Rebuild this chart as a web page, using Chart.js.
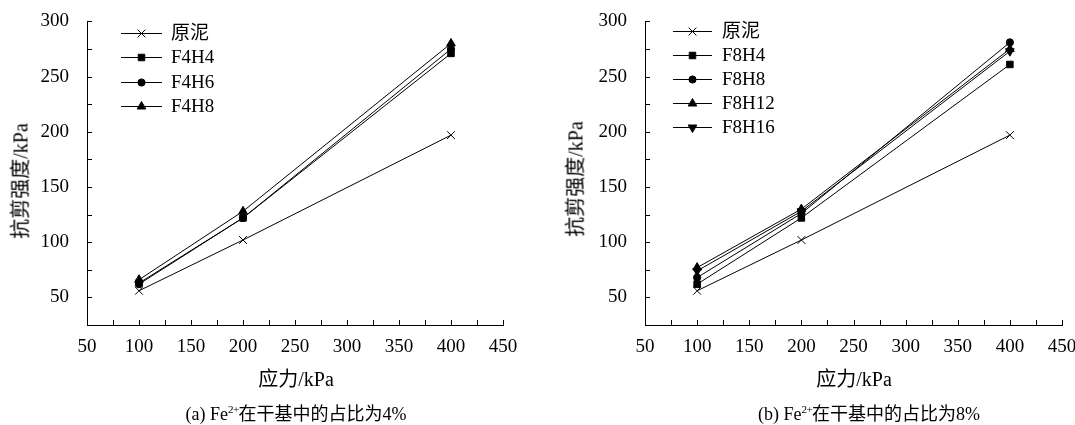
<!DOCTYPE html>
<html>
<head>
<meta charset="utf-8">
<script src="https://cdn.jsdelivr.net/npm/chart.js@4.4.0/dist/chart.umd.min.js"></script>
<style>
  body { margin: 0; background: #fff; width: 1075px; height: 425px; position: relative; overflow: hidden;
         font-family: "Liberation Serif", "Noto Sans CJK SC", serif; color: #000; }
  .panel { position: absolute; top: 0; height: 425px; }
  .panel canvas { position: absolute; left: 0; top: 0; }
  .ytitle { position: absolute; font-size: 20px; white-space: nowrap; transform: translate(-50%, -50%) rotate(-90deg); }
  .xtitle { position: absolute; font-size: 20px; white-space: nowrap; transform: translate(-50%, -50%); }
  .cap { position: absolute; font-size: 18px; white-space: nowrap; transform: translate(-50%, -50%); }
  .cap sup { font-size: 11px; vertical-align: 0; line-height: 0; position: relative; top: -7px; letter-spacing: -0.5px; }
</style>
</head>
<body>
<div class="panel" style="left:0;width:537px">
  <canvas id="chartA" width="537" height="425"></canvas>
  <div class="ytitle" style="left:19px;top:181px">抗剪强度/kPa</div>
  <div class="xtitle" style="left:296px;top:377px">应力/kPa</div>
  <div class="cap" style="left:296px;top:412px">(a) Fe<sup>2+</sup>在干基中的占比为4%</div>
</div>
<div class="panel" style="left:538px;width:560px">
  <canvas id="chartB" width="560" height="425"></canvas>
  <div class="ytitle" style="left:36px;top:179px">抗剪强度/kPa</div>
  <div class="xtitle" style="left:316px;top:377px">应力/kPa</div>
  <div class="cap" style="left:331px;top:412px">(b) Fe<sup>2+</sup>在干基中的占比为8%</div>
</div>

<script>
// stress levels (x)
const stress = [100, 200, 400];

// (a) Fe2+ 4%
const labelsA = ["原泥", "F4H4", "F4H6", "F4H8"];
const yuanNiA = [56, 102, 197];
const f4h4 = [63, 122, 271];
const f4h6 = [62, 122, 275];
const f4h8 = [66, 128, 280];

// (b) Fe2+ 8%
const labelsB = ["原泥", "F8H4", "F8H8", "F8H12", "F8H16"];
const yuanNiB = [56, 102, 197];
const f8h4 = [62, 122, 261];
const f8h8 = [68, 126, 281];
const f8h12 = [77, 130, 275];
const f8h16 = [74, 128, 273];

const FONT = "'Liberation Serif', 'Times New Roman', 'Noto Sans CJK SC', serif";

const markers = {
  cross: { pointStyle: "crossRot", pointRadius: 5.5, pointRotation: 0 },
  square: { pointStyle: "rect", pointRadius: 4.6, pointRotation: 0 },
  circle: { pointStyle: "circle", pointRadius: 3.6, pointRotation: 0 },
  triUp: { pointStyle: "triangle", pointRadius: 5, pointRotation: 0 },
  triDown: { pointStyle: "triangle", pointRadius: 5, pointRotation: 180 },
};

function series(label, values, marker) {
  return {
    label: label,
    data: stress.map((x, i) => ({ x: x, y: values[i] })),
    borderColor: "#000",
    backgroundColor: "#000",
    borderWidth: 1,
    pointBorderWidth: 1,
    pointHoverRadius: marker.pointRadius,
    tension: 0,
    ...marker,
  };
}

// little ticks pointing into the plot, every 25
const innerTicks = {
  id: "innerTicks",
  afterDraw(chart) {
    const ctx = chart.ctx;
    const area = chart.chartArea;
    const xs = chart.scales.x;
    const ys = chart.scales.y;
    ctx.save();
    ctx.strokeStyle = "#000";
    ctx.lineWidth = 1;
    ctx.beginPath();
    xs.ticks.forEach((t) => {
      const px = Math.round(xs.getPixelForValue(t.value)) + 0.5;
      ctx.moveTo(px, area.bottom);
      ctx.lineTo(px, area.bottom - 5);
    });
    ys.ticks.forEach((t) => {
      const py = Math.round(ys.getPixelForValue(t.value)) + 0.5;
      ctx.moveTo(area.left, py);
      ctx.lineTo(area.left + 5, py);
    });
    ctx.stroke();
    ctx.restore();
  },
};

// legend with a line through the marker
const lineLegend = {
  id: "lineLegend",
  afterDatasetsDraw(chart, args, opts) {
    const ctx = chart.ctx;
    ctx.save();
    chart.data.datasets.forEach((ds, i) => {
      const y = opts.top + i * opts.gap;
      ctx.strokeStyle = "#000";
      ctx.fillStyle = "#000";
      ctx.lineWidth = 1;
      ctx.beginPath();
      ctx.moveTo(opts.left, Math.round(y) + 0.5);
      ctx.lineTo(opts.left + opts.len, Math.round(y) + 0.5);
      ctx.stroke();
      Chart.helpers.drawPoint(ctx, {
        pointStyle: ds.pointStyle,
        rotation: ds.pointRotation,
        radius: ds.pointRadius,
        borderWidth: 1,
      }, opts.left + opts.len / 2, Math.round(y) + 0.5);
      ctx.font = "19px " + FONT;
      ctx.textBaseline = "middle";
      ctx.textAlign = "left";
      ctx.fillText(ds.label, opts.left + opts.textOffset, y + 1);
    });
    ctx.restore();
  },
};

function makeChart(id, datasets, yWidth, padRight, legend) {
  new Chart(document.getElementById(id), {
    type: "line",
    data: { datasets: datasets },
    plugins: [innerTicks, lineLegend],
    options: {
      responsive: false,
      animation: false,
      layout: { padding: { left: 0, top: 16, right: padRight, bottom: 0 } },
      plugins: {
        legend: { display: false },
        tooltip: { enabled: false },
        lineLegend: legend,
      },
      scales: {
        x: {
          type: "linear",
          min: 50,
          max: 450,
          afterFit: (s) => { s.height = 100; },
          grid: { display: false },
          border: { display: true, color: "#000", width: 1 },
          ticks: {
            stepSize: 25,
            autoSkip: false,
            maxRotation: 0,
            padding: 3,
            color: "#000",
            font: { family: FONT, size: 19 },
            callback: (v) => (v % 50 === 0 ? v : ""),
          },
        },
        y: {
          min: 25,
          max: 300,
          afterFit: (s) => { s.width = yWidth; },
          grid: { display: false },
          border: { display: true, color: "#000", width: 1 },
          ticks: {
            stepSize: 25,
            autoSkip: false,
            padding: 10,
            color: "#000",
            font: { family: FONT, size: 19 },
            callback: (v) => (v % 50 === 0 ? v : ""),
          },
        },
      },
    },
  });
}

function drawAll() {
  makeChart("chartA", [
    series(labelsA[0], yuanNiA, markers.cross),
    series(labelsA[1], f4h4, markers.square),
    series(labelsA[2], f4h6, markers.circle),
    series(labelsA[3], f4h8, markers.triUp),
  ], 87, 34, { left: 121, len: 41, textOffset: 50, top: 33, gap: 24.3 });

  makeChart("chartB", [
    series(labelsB[0], yuanNiB, markers.cross),
    series(labelsB[1], f8h4, markers.square),
    series(labelsB[2], f8h8, markers.circle),
    series(labelsB[3], f8h12, markers.triUp),
    series(labelsB[4], f8h16, markers.triDown),
  ], 107, 36, { left: 135, len: 39, textOffset: 49, top: 31, gap: 24 });
}

Promise.all([
  document.fonts.load("19px 'Liberation Serif'"),
  document.fonts.load("19px 'Noto Sans CJK SC'", "原泥"),
]).then(drawAll, drawAll);
</script>
</body>
</html>
